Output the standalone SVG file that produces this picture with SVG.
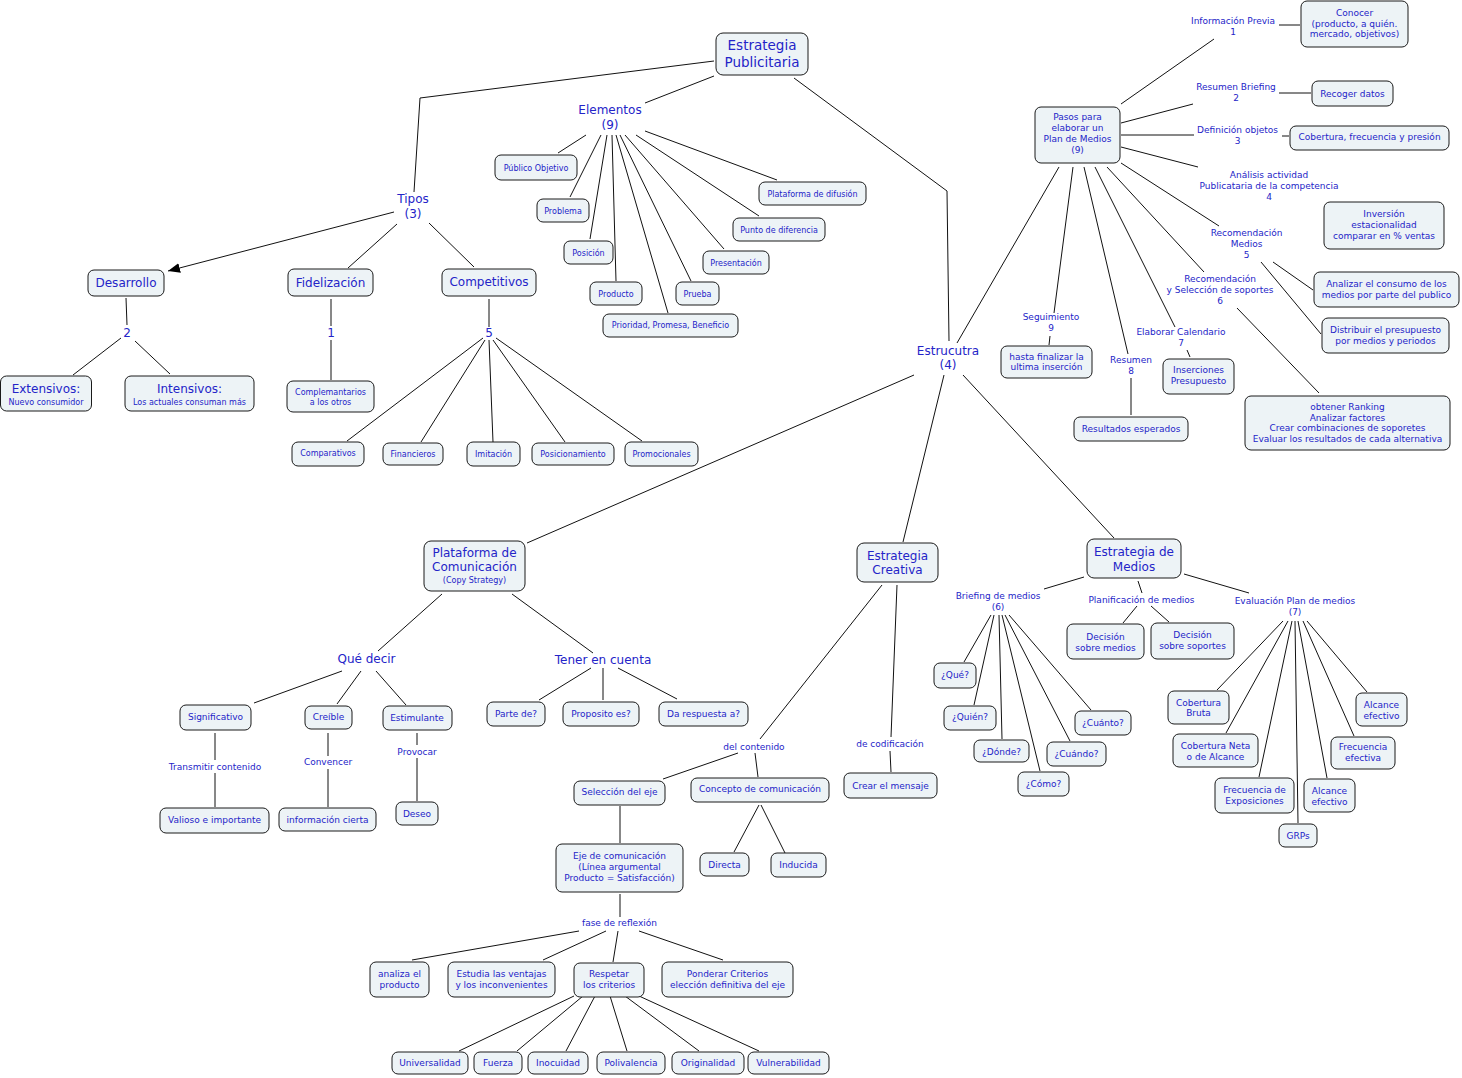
<svg xmlns="http://www.w3.org/2000/svg" width="1462" height="1078" viewBox="0 0 1462 1078">
<style>
rect.b{fill:#edf3f6;stroke:#1a1a1a;stroke-width:1}
text{font-family:"DejaVu Sans","Verdana",sans-serif;fill:#2424c8;text-anchor:middle}
.x{font-size:13.5px}
.l{font-size:12px}
.m{font-size:9px}
.s{font-size:8px}
#connectors line,#connectors polyline{stroke:#111;stroke-width:1;fill:none}
</style>
<defs>
<marker id="arr" viewBox="0 0 12 10" refX="12" refY="5" markerWidth="12" markerHeight="10" markerUnits="userSpaceOnUse" orient="auto">
<path d="M0,0 L12,5 L0,10 z" fill="#000"/>
</marker>
</defs>
<rect width="1462" height="1078" fill="#fff"/>
<g id="connectors">
<polyline points="714,61 420,98 414,192"/>
<line x1="714" y1="76" x2="645" y2="103"/>
<polyline points="794,78 947,191 949,341"/>
<line x1="394" y1="212" x2="168" y2="271" marker-end="url(#arr)"/>
<line x1="397" y1="224" x2="348" y2="268"/>
<line x1="429" y1="223" x2="474" y2="267"/>
<line x1="126" y1="298" x2="127" y2="325"/>
<line x1="121" y1="338" x2="73" y2="375"/>
<line x1="135" y1="341" x2="170" y2="374"/>
<line x1="331" y1="299" x2="331" y2="326"/>
<line x1="331" y1="340" x2="331" y2="380"/>
<line x1="489" y1="299" x2="489" y2="327"/>
<line x1="483" y1="338" x2="347" y2="441"/>
<line x1="485" y1="340" x2="421" y2="442"/>
<line x1="489" y1="340" x2="493" y2="442"/>
<line x1="493" y1="340" x2="565" y2="442"/>
<line x1="496" y1="338" x2="642" y2="441"/>
<line x1="586" y1="135" x2="558" y2="153"/>
<line x1="601" y1="135" x2="570" y2="197"/>
<line x1="607" y1="135" x2="590" y2="239"/>
<line x1="612" y1="135" x2="616" y2="281"/>
<line x1="616" y1="135" x2="668" y2="313"/>
<line x1="620" y1="135" x2="691" y2="281"/>
<line x1="625" y1="135" x2="724" y2="249"/>
<line x1="636" y1="135" x2="759" y2="216"/>
<line x1="645" y1="131" x2="777" y2="180"/>
<line x1="957" y1="343" x2="1059" y2="167"/>
<line x1="1121" y1="104" x2="1214" y2="39"/>
<line x1="1279" y1="25" x2="1300" y2="25"/>
<line x1="1121" y1="123" x2="1193" y2="104"/>
<line x1="1279" y1="93" x2="1311" y2="93"/>
<line x1="1121" y1="135" x2="1194" y2="135"/>
<line x1="1282" y1="136" x2="1289" y2="136"/>
<line x1="1121" y1="147" x2="1198" y2="167"/>
<line x1="1121" y1="163" x2="1219" y2="226"/>
<line x1="1273" y1="262" x2="1313" y2="290"/>
<line x1="1261" y1="262" x2="1321" y2="334"/>
<line x1="1107" y1="167" x2="1204" y2="272"/>
<line x1="1237" y1="308" x2="1319" y2="393"/>
<line x1="1095" y1="167" x2="1175" y2="327"/>
<line x1="1187" y1="350" x2="1190" y2="357"/>
<line x1="1084" y1="167" x2="1128" y2="354"/>
<line x1="1131" y1="378" x2="1131" y2="415"/>
<line x1="1073" y1="167" x2="1054" y2="313"/>
<line x1="1050" y1="336" x2="1049" y2="345"/>
<line x1="914" y1="375" x2="527" y2="543"/>
<line x1="944" y1="375" x2="903" y2="542"/>
<line x1="963" y1="375" x2="1114" y2="538"/>
<line x1="442" y1="594" x2="378" y2="651"/>
<line x1="512" y1="594" x2="593" y2="653"/>
<line x1="591" y1="668" x2="539" y2="700"/>
<line x1="603" y1="668" x2="603" y2="700"/>
<line x1="618" y1="668" x2="677" y2="699"/>
<line x1="342" y1="671" x2="254" y2="703"/>
<line x1="361" y1="671" x2="337" y2="704"/>
<line x1="376" y1="671" x2="406" y2="705"/>
<line x1="215" y1="733" x2="215" y2="760"/>
<line x1="215" y1="773" x2="215" y2="807"/>
<line x1="328" y1="733" x2="328" y2="756"/>
<line x1="328" y1="769" x2="328" y2="807"/>
<line x1="417" y1="733" x2="417" y2="745"/>
<line x1="417" y1="758" x2="417" y2="801"/>
<line x1="882" y1="585" x2="760" y2="739"/>
<line x1="738" y1="753" x2="663" y2="779"/>
<line x1="755" y1="753" x2="758" y2="777"/>
<line x1="759" y1="805" x2="734" y2="852"/>
<line x1="761" y1="805" x2="785" y2="853"/>
<line x1="897" y1="585" x2="891" y2="737"/>
<line x1="890" y1="751" x2="891" y2="772"/>
<line x1="620" y1="806" x2="620" y2="843"/>
<line x1="620" y1="894" x2="620" y2="917"/>
<line x1="579" y1="931" x2="412" y2="960"/>
<line x1="606" y1="931" x2="543" y2="960"/>
<line x1="618" y1="931" x2="613" y2="962"/>
<line x1="639" y1="931" x2="723" y2="960"/>
<line x1="574" y1="996" x2="459" y2="1051"/>
<line x1="583" y1="996" x2="517" y2="1051"/>
<line x1="595" y1="996" x2="566" y2="1051"/>
<line x1="610" y1="996" x2="627" y2="1051"/>
<line x1="625" y1="996" x2="699" y2="1051"/>
<line x1="639" y1="996" x2="759" y2="1051"/>
<line x1="1084" y1="577" x2="1044" y2="589"/>
<line x1="1138" y1="581" x2="1142" y2="593"/>
<line x1="1137" y1="606" x2="1123" y2="623"/>
<line x1="1151" y1="606" x2="1169" y2="622"/>
<line x1="1184" y1="574" x2="1249" y2="593"/>
<line x1="991" y1="615" x2="964" y2="662"/>
<line x1="994" y1="615" x2="974" y2="705"/>
<line x1="999" y1="615" x2="1002" y2="739"/>
<line x1="1002" y1="615" x2="1040" y2="771"/>
<line x1="1005" y1="615" x2="1070" y2="741"/>
<line x1="1009" y1="615" x2="1091" y2="710"/>
<line x1="1283" y1="621" x2="1217" y2="690"/>
<line x1="1288" y1="621" x2="1226" y2="733"/>
<line x1="1292" y1="621" x2="1259" y2="777"/>
<line x1="1295" y1="621" x2="1298" y2="823"/>
<line x1="1298" y1="621" x2="1327" y2="778"/>
<line x1="1303" y1="621" x2="1354" y2="736"/>
<line x1="1307" y1="621" x2="1367" y2="692"/>
</g>
<g id="n-estrategia-publicitaria"><rect class="b" x="716" y="33" width="92" height="42" rx="7"/><text class="x"><tspan x="762" y="50">Estrategia</tspan><tspan x="762" y="67">Publicitaria</tspan></text></g>
<g id="n-tipos"><text class="l"><tspan x="413" y="203">Tipos</tspan><tspan x="413" y="218">(3)</tspan></text></g>
<g id="n-elementos"><text class="l"><tspan x="610" y="114">Elementos</tspan><tspan x="610" y="129">(9)</tspan></text></g>
<g id="n-estrucutra"><text class="l"><tspan x="948" y="355">Estrucutra</tspan><tspan x="948" y="369">(4)</tspan></text></g>
<g id="n-desarrollo"><rect class="b" x="88" y="270" width="76" height="26" rx="6"/><text class="l" x="126" y="287">Desarrollo</text></g>
<g id="n-fidelizacion"><rect class="b" x="288" y="269" width="85" height="27" rx="6"/><text class="l" x="330.5" y="287">Fidelización</text></g>
<g id="n-competitivos"><rect class="b" x="442" y="269" width="94" height="27" rx="6"/><text class="l" x="489" y="286">Competitivos</text></g>
<g id="n-2"><text class="l" x="127" y="337">2</text></g>
<g id="n-1"><text class="l" x="331" y="337">1</text></g>
<g id="n-5"><text class="l" x="489" y="337">5</text></g>
<g id="n-extensivos"><rect class="b" x="0.5" y="376" width="91" height="35" rx="6"/><text><tspan class="l" x="46" y="393">Extensivos:</tspan><tspan class="s" x="46" y="405">Nuevo consumidor</tspan></text></g>
<g id="n-intensivos"><rect class="b" x="125" y="376" width="129" height="35" rx="6"/><text><tspan class="l" x="189.5" y="393">Intensivos:</tspan><tspan class="s" x="189.5" y="405">Los actuales consuman más</tspan></text></g>
<g id="n-complemantarios"><rect class="b" x="287" y="381" width="87" height="31" rx="6"/><text class="s"><tspan x="330.5" y="395">Complemantarios</tspan><tspan x="330.5" y="405">a los otros</tspan></text></g>
<g id="n-comparativos"><rect class="b" x="292" y="442" width="72" height="24" rx="6"/><text class="s" x="328" y="456">Comparativos</text></g>
<g id="n-financieros"><rect class="b" x="383" y="443" width="60" height="22" rx="6"/><text class="s" x="413" y="457">Financieros</text></g>
<g id="n-imitacion"><rect class="b" x="467" y="442" width="53" height="24" rx="6"/><text class="s" x="493.5" y="457">Imitación</text></g>
<g id="n-posicionamiento"><rect class="b" x="532" y="443" width="82" height="22" rx="6"/><text class="s" x="573" y="457">Posicionamiento</text></g>
<g id="n-promocionales"><rect class="b" x="625" y="442" width="73" height="24" rx="6"/><text class="s" x="661.5" y="457">Promocionales</text></g>
<g id="n-publico-objetivo"><rect class="b" x="495" y="155" width="82" height="25" rx="6"/><text class="s" x="536" y="171">Público Objetivo</text></g>
<g id="n-problema"><rect class="b" x="537" y="199" width="52" height="23" rx="6"/><text class="s" x="563" y="214">Problema</text></g>
<g id="n-posicion"><rect class="b" x="564" y="241" width="49" height="23" rx="6"/><text class="s" x="588.5" y="256">Posición</text></g>
<g id="n-producto"><rect class="b" x="590" y="282" width="52" height="23" rx="6"/><text class="s" x="616" y="297">Producto</text></g>
<g id="n-prueba"><rect class="b" x="676" y="282" width="43" height="23" rx="6"/><text class="s" x="697.5" y="297">Prueba</text></g>
<g id="n-prioridad"><rect class="b" x="603" y="314" width="135" height="23" rx="6"/><text class="s" x="670.5" y="328">Prioridad, Promesa, Beneficio</text></g>
<g id="n-presentacion"><rect class="b" x="703" y="251" width="66" height="23" rx="6"/><text class="s" x="736" y="266">Presentación</text></g>
<g id="n-punto-diferencia"><rect class="b" x="733" y="218" width="92" height="23" rx="6"/><text class="s" x="779" y="233">Punto de diferencia</text></g>
<g id="n-plataforma-difusion"><rect class="b" x="759" y="182" width="107" height="23" rx="6"/><text class="s" x="812.5" y="197">Plataforma de difusión</text></g>
<g id="n-pasos"><rect class="b" x="1035" y="107" width="85" height="56" rx="6"/><text class="m"><tspan x="1077.5" y="120">Pasos para</tspan><tspan x="1077.5" y="131">elaborar un</tspan><tspan x="1077.5" y="142">Plan de Medios</tspan><tspan x="1077.5" y="153">(9)</tspan></text></g>
<g id="n-info-previa"><text class="m"><tspan x="1233" y="24">Información Previa</tspan><tspan x="1233" y="35">1</tspan></text></g>
<g id="n-conocer"><rect class="b" x="1301" y="1" width="107" height="46" rx="6"/><text class="m"><tspan x="1354.5" y="16">Conocer</tspan><tspan x="1354.5" y="27">(producto, a quién.</tspan><tspan x="1354.5" y="37">mercado, objetivos)</tspan></text></g>
<g id="n-resumen-briefing"><text class="m"><tspan x="1236" y="90">Resumen Briefing</tspan><tspan x="1236" y="101">2</tspan></text></g>
<g id="n-recoger"><rect class="b" x="1312" y="81" width="81" height="25" rx="6"/><text class="m" x="1352.5" y="97">Recoger datos</text></g>
<g id="n-definicion"><text class="m"><tspan x="1237.5" y="133">Definición objetos</tspan><tspan x="1237.5" y="144">3</tspan></text></g>
<g id="n-cobertura-frecuencia"><rect class="b" x="1290" y="126" width="159" height="24" rx="6"/><text class="m" x="1369.5" y="140">Cobertura, frecuencia y presión</text></g>
<g id="n-analisis"><text class="m"><tspan x="1269" y="178">Análisis actividad</tspan><tspan x="1269" y="189">Publicataria de la competencia</tspan><tspan x="1269" y="200">4</tspan></text></g>
<g id="n-inversion"><rect class="b" x="1324" y="202" width="120" height="47" rx="6"/><text class="m"><tspan x="1384" y="217">Inversión</tspan><tspan x="1384" y="228">estacionalidad</tspan><tspan x="1384" y="239">comparar en % ventas</tspan></text></g>
<g id="n-recomendacion-medios"><text class="m"><tspan x="1246.5" y="236">Recomendación</tspan><tspan x="1246.5" y="247">Medios</tspan><tspan x="1246.5" y="258">5</tspan></text></g>
<g id="n-analizar"><rect class="b" x="1314" y="272" width="145" height="35" rx="6"/><text class="m"><tspan x="1386.5" y="287">Analizar el consumo de los</tspan><tspan x="1386.5" y="298">medios por parte del publico</tspan></text></g>
<g id="n-distribuir"><rect class="b" x="1322" y="318" width="127" height="35" rx="6"/><text class="m"><tspan x="1385.5" y="333">Distribuir el presupuesto</tspan><tspan x="1385.5" y="344">por medios y periodos</tspan></text></g>
<g id="n-recomendacion-seleccion"><text class="m"><tspan x="1220" y="282">Recomendación</tspan><tspan x="1220" y="293">y Selección de soportes</tspan><tspan x="1220" y="304">6</tspan></text></g>
<g id="n-obtener"><rect class="b" x="1245" y="396" width="205" height="54" rx="6"/><text class="m"><tspan x="1347.5" y="410">obtener Ranking</tspan><tspan x="1347.5" y="421">Analizar factores</tspan><tspan x="1347.5" y="431">Crear combinaciones de soporetes</tspan><tspan x="1347.5" y="442">Evaluar los resultados de cada alternativa</tspan></text></g>
<g id="n-elaborar"><text class="m"><tspan x="1181" y="335">Elaborar Calendario</tspan><tspan x="1181" y="346">7</tspan></text></g>
<g id="n-inserciones"><rect class="b" x="1163" y="359" width="71" height="35" rx="6"/><text class="m"><tspan x="1198.5" y="373">Inserciones</tspan><tspan x="1198.5" y="384">Presupuesto</tspan></text></g>
<g id="n-resumen"><text class="m"><tspan x="1131" y="363">Resumen</tspan><tspan x="1131" y="374">8</tspan></text></g>
<g id="n-resultados"><rect class="b" x="1074" y="417" width="114" height="24" rx="6"/><text class="m" x="1131" y="432">Resultados esperados</text></g>
<g id="n-seguimiento"><text class="m"><tspan x="1051" y="320">Seguimiento</tspan><tspan x="1051" y="331">9</tspan></text></g>
<g id="n-hasta"><rect class="b" x="1001" y="346" width="91" height="32" rx="6"/><text class="m"><tspan x="1046.5" y="360">hasta finalizar la</tspan><tspan x="1046.5" y="370">ultima inserción</tspan></text></g>
<g id="n-plataforma-comunicacion"><rect class="b" x="424" y="541" width="101" height="50" rx="7"/><text><tspan class="l" x="474.5" y="557">Plataforma de</tspan><tspan class="l" x="474.5" y="571">Comunicación</tspan><tspan class="s" x="474.5" y="583">(Copy Strategy)</tspan></text></g>
<g id="n-que-decir"><text class="l" x="366.5" y="663">Qué decir</text></g>
<g id="n-tener"><text class="l" x="603" y="664">Tener en cuenta</text></g>
<g id="n-significativo"><rect class="b" x="180" y="705" width="71" height="25" rx="6"/><text class="m" x="215.5" y="720">Significativo</text></g>
<g id="n-creible"><rect class="b" x="305" y="706" width="47" height="23" rx="6"/><text class="m" x="328.5" y="720">Creíble</text></g>
<g id="n-estimulante"><rect class="b" x="383" y="706" width="69" height="24" rx="6"/><text class="m" x="417" y="721">Estimulante</text></g>
<g id="n-parte"><rect class="b" x="487" y="702" width="58" height="24" rx="6"/><text class="m" x="516" y="717">Parte de?</text></g>
<g id="n-proposito"><rect class="b" x="563" y="702" width="76" height="24" rx="6"/><text class="m" x="601" y="717">Proposito es?</text></g>
<g id="n-da-respuesta"><rect class="b" x="659" y="702" width="89" height="24" rx="6"/><text class="m" x="703.5" y="717">Da respuesta a?</text></g>
<g id="n-transmitir"><text class="m" x="215" y="770">Transmitir contenido</text></g>
<g id="n-valioso"><rect class="b" x="160" y="808" width="109" height="25" rx="6"/><text class="m" x="214.5" y="823">Valioso e importante</text></g>
<g id="n-convencer"><text class="m" x="328" y="765">Convencer</text></g>
<g id="n-informacion-cierta"><rect class="b" x="279" y="808" width="97" height="23" rx="6"/><text class="m" x="327.5" y="823">información cierta</text></g>
<g id="n-provocar"><text class="m" x="417" y="755">Provocar</text></g>
<g id="n-deseo"><rect class="b" x="396" y="802" width="42" height="23" rx="6"/><text class="m" x="417" y="817">Deseo</text></g>
<g id="n-estrategia-creativa"><rect class="b" x="857" y="543" width="81" height="39" rx="7"/><text class="l"><tspan x="897.5" y="560">Estrategia</tspan><tspan x="897.5" y="574">Creativa</tspan></text></g>
<g id="n-del-contenido"><text class="m" x="754" y="750">del contenido</text></g>
<g id="n-de-codificacion"><text class="m" x="890" y="747">de codificación</text></g>
<g id="n-seleccion-eje"><rect class="b" x="574" y="781" width="91" height="24" rx="6"/><text class="m" x="619.5" y="795">Selección del eje</text></g>
<g id="n-concepto"><rect class="b" x="691" y="778" width="138" height="24" rx="6"/><text class="m" x="760" y="792">Concepto de comunicación</text></g>
<g id="n-directa"><rect class="b" x="700" y="853" width="49" height="23" rx="6"/><text class="m" x="724.5" y="868">Directa</text></g>
<g id="n-inducida"><rect class="b" x="771" y="853" width="55" height="24" rx="6"/><text class="m" x="798.5" y="868">Inducida</text></g>
<g id="n-crear-mensaje"><rect class="b" x="844" y="773" width="93" height="25" rx="6"/><text class="m" x="890.5" y="789">Crear el mensaje</text></g>
<g id="n-eje"><rect class="b" x="556" y="844" width="127" height="48" rx="6"/><text class="m"><tspan x="619.5" y="859">Eje de comunicación</tspan><tspan x="619.5" y="870">(Línea argumental</tspan><tspan x="619.5" y="881">Producto = Satisfacción)</tspan></text></g>
<g id="n-fase"><text class="m" x="619.5" y="926">fase de reflexión</text></g>
<g id="n-analiza"><rect class="b" x="370" y="962" width="59" height="35" rx="6"/><text class="m"><tspan x="399.5" y="977">analiza el</tspan><tspan x="399.5" y="988">producto</tspan></text></g>
<g id="n-estudia"><rect class="b" x="448" y="962" width="107" height="35" rx="6"/><text class="m"><tspan x="501.5" y="977">Estudia las ventajas</tspan><tspan x="501.5" y="988">y los inconvenientes</tspan></text></g>
<g id="n-respetar"><rect class="b" x="574" y="963" width="70" height="34" rx="6"/><text class="m"><tspan x="609" y="977">Respetar</tspan><tspan x="609" y="988">los criterios</tspan></text></g>
<g id="n-ponderar"><rect class="b" x="662" y="962" width="131" height="35" rx="6"/><text class="m"><tspan x="727.5" y="977">Ponderar Criterios</tspan><tspan x="727.5" y="988">elección definitiva del eje</tspan></text></g>
<g id="n-universalidad"><rect class="b" x="392" y="1052" width="76" height="22" rx="6"/><text class="m" x="430" y="1066">Universalidad</text></g>
<g id="n-fuerza"><rect class="b" x="474" y="1052" width="48" height="22" rx="6"/><text class="m" x="498" y="1066">Fuerza</text></g>
<g id="n-inocuidad"><rect class="b" x="528" y="1052" width="60" height="22" rx="6"/><text class="m" x="558" y="1066">Inocuidad</text></g>
<g id="n-polivalencia"><rect class="b" x="597" y="1052" width="68" height="22" rx="6"/><text class="m" x="631" y="1066">Polivalencia</text></g>
<g id="n-originalidad"><rect class="b" x="672" y="1052" width="72" height="22" rx="6"/><text class="m" x="708" y="1066">Originalidad</text></g>
<g id="n-vulnerabilidad"><rect class="b" x="748" y="1052" width="81" height="22" rx="6"/><text class="m" x="788.5" y="1066">Vulnerabilidad</text></g>
<g id="n-estrategia-medios"><rect class="b" x="1087" y="539" width="94" height="39" rx="7"/><text class="l"><tspan x="1134" y="556">Estrategia de</tspan><tspan x="1134" y="571">Medios</tspan></text></g>
<g id="n-briefing"><text class="m"><tspan x="998" y="599">Briefing de medios</tspan><tspan x="998" y="610">(6)</tspan></text></g>
<g id="n-planificacion"><text class="m" x="1141.5" y="603">Planificación de medios</text></g>
<g id="n-evaluacion"><text class="m"><tspan x="1295" y="604">Evaluación Plan de medios</tspan><tspan x="1295" y="615">(7)</tspan></text></g>
<g id="n-decision-medios"><rect class="b" x="1067" y="624" width="77" height="35" rx="6"/><text class="m"><tspan x="1105.5" y="640">Decisión</tspan><tspan x="1105.5" y="651">sobre medios</tspan></text></g>
<g id="n-decision-soportes"><rect class="b" x="1151" y="623" width="83" height="36" rx="6"/><text class="m"><tspan x="1192.5" y="638">Decisión</tspan><tspan x="1192.5" y="649">sobre soportes</tspan></text></g>
<g id="n-que"><rect class="b" x="934" y="663" width="42" height="25" rx="6"/><text class="m" x="955" y="678">¿Qué?</text></g>
<g id="n-quien"><rect class="b" x="944" y="706" width="52" height="24" rx="6"/><text class="m" x="970" y="720">¿Quién?</text></g>
<g id="n-donde"><rect class="b" x="974" y="740" width="55" height="22" rx="6"/><text class="m" x="1001.5" y="755">¿Dónde?</text></g>
<g id="n-como"><rect class="b" x="1018" y="772" width="51" height="24" rx="6"/><text class="m" x="1043.5" y="787">¿Cómo?</text></g>
<g id="n-cuando"><rect class="b" x="1047" y="742" width="59" height="24" rx="6"/><text class="m" x="1076.5" y="757">¿Cuándo?</text></g>
<g id="n-cuanto"><rect class="b" x="1075" y="711" width="56" height="24" rx="6"/><text class="m" x="1103" y="726">¿Cuánto?</text></g>
<g id="n-cobertura-bruta"><rect class="b" x="1168" y="691" width="61" height="33" rx="6"/><text class="m"><tspan x="1198.5" y="706">Cobertura</tspan><tspan x="1198.5" y="716">Bruta</tspan></text></g>
<g id="n-cobertura-neta"><rect class="b" x="1173" y="734" width="85" height="33" rx="6"/><text class="m"><tspan x="1215.5" y="749">Cobertura Neta</tspan><tspan x="1215.5" y="760">o de Alcance</tspan></text></g>
<g id="n-frecuencia-exposiciones"><rect class="b" x="1215" y="778" width="79" height="35" rx="6"/><text class="m"><tspan x="1254.5" y="793">Frecuencia de</tspan><tspan x="1254.5" y="804">Exposiciones</tspan></text></g>
<g id="n-grps"><rect class="b" x="1279" y="824" width="38" height="23" rx="6"/><text class="m" x="1298" y="839">GRPs</text></g>
<g id="n-alcance-efectivo-1"><rect class="b" x="1304" y="779" width="51" height="33" rx="6"/><text class="m"><tspan x="1329.5" y="794">Alcance</tspan><tspan x="1329.5" y="805">efectivo</tspan></text></g>
<g id="n-frecuencia-efectiva"><rect class="b" x="1331" y="737" width="64" height="32" rx="6"/><text class="m"><tspan x="1363" y="750">Frecuencia</tspan><tspan x="1363" y="761">efectiva</tspan></text></g>
<g id="n-alcance-efectivo-2"><rect class="b" x="1356" y="693" width="51" height="33" rx="6"/><text class="m"><tspan x="1381.5" y="708">Alcance</tspan><tspan x="1381.5" y="719">efectivo</tspan></text></g>
</svg>
